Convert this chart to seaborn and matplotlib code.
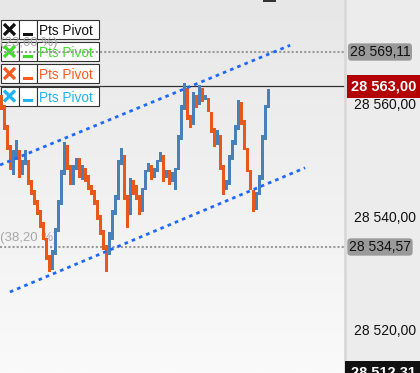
import numpy as np
import seaborn as sns
import matplotlib.pyplot as plt
from matplotlib.colors import LinearSegmentedColormap
from matplotlib.patches import Rectangle
from matplotlib.lines import Line2D

# price bars (open / close)
opens = [28561.5, 28559.7, 28556.2, 28552.6, 28547.3, 28550.0, 28551.8, 28547.3, 28549.1, 28550.0,
         28546.4, 28544.7, 28542.9, 28541.1, 28539.0, 28536.2, 28533.2, 28530.5, 28533.2, 28537.2,
         28542.0, 28547.3, 28552.6, 28549.1, 28545.6, 28548.2, 28550.3, 28546.4, 28548.6, 28547.3,
         28545.6, 28544.7, 28542.9, 28540.2, 28537.6, 28534.9, 28533.2, 28535.8, 28540.2, 28542.9,
         28549.1, 28550.9, 28543.8, 28540.2, 28546.4, 28545.6, 28543.8, 28540.8, 28544.7, 28547.9,
         28549.1, 28546.8, 28547.9, 28549.6, 28550.9, 28546.8, 28548.2, 28546.1, 28544.7, 28548.2,
         28553.5, 28558.8, 28562.7, 28558.0, 28556.2, 28561.5, 28559.7, 28562.7, 28560.6, 28561.0,
         28558.5, 28555.7, 28552.6, 28554.4, 28549.1, 28544.7, 28545.6, 28550.0, 28552.6, 28555.3,
         28560.3, 28557.1, 28552.1, 28548.2, 28544.7, 28541.1, 28543.8, 28546.4, 28553.5, 28559.2]
closes = [28558.8, 28555.3, 28551.8, 28548.2, 28551.8, 28553.5, 28546.8, 28550.0, 28551.8, 28545.6,
          28543.8, 28542.0, 28540.2, 28537.9, 28535.8, 28532.3, 28530.1, 28534.0, 28537.9, 28542.9,
          28548.2, 28553.2, 28548.2, 28545.6, 28549.1, 28550.3, 28546.8, 28549.1, 28546.1, 28544.7,
          28543.8, 28542.0, 28539.4, 28536.7, 28534.0, 28530.1, 28537.2, 28541.1, 28543.8, 28550.0,
          28552.1, 28542.9, 28537.9, 28546.8, 28543.8, 28542.9, 28540.2, 28545.0, 28548.2, 28549.5,
          28546.4, 28548.6, 28550.0, 28551.4, 28546.1, 28548.2, 28545.6, 28547.9, 28548.6, 28554.4,
          28559.7, 28563.6, 28557.1, 28555.7, 28562.0, 28559.2, 28563.3, 28560.3, 28561.5, 28558.5,
          28554.8, 28552.3, 28555.3, 28548.2, 28543.8, 28546.4, 28550.9, 28553.5, 28556.2, 28560.6,
          28556.2, 28551.8, 28547.9, 28544.7, 28540.8, 28544.3, 28547.3, 28554.4, 28559.7, 28562.6]

# channel lines (two points each)
upper_x = [-0.5, 96.2]
upper_y = [28549.1, 28570.3]
lower_x = [2.8, 101.2]
lower_y = [28526.6, 28548.6]

pivot_levels = [28569.11, 28534.57]
pivot_labels = ["28 569,11", "28 534,57"]
pivot_pcts = ["(23,60 %)", "(38,20 %)"]
pct_y = [28570.7, 28536.2]
last_price = 28563.00
last_label = "28 563,00"
low_price = 28512.31
low_label = "28 512,31"
y_ticks = [28520, 28540, 28560]
y_tick_labels = ["28 520,00", "28 540,00", "28 560,00"]

legend_colors = ["#111111", "#3fdc2a", "#ff5a1f", "#1fb4ee"]
legend_label = "Pts Pivot"

UP = "#4a80b8"
DOWN = "#e8581a"

sns.set_style("white")
plt.rcParams['font.family'] = ['Liberation Sans', 'DejaVu Sans']

W, H = 420, 373
fig = plt.figure(figsize=(W / 100, H / 100), dpi=100, facecolor="#ececec")
AXW = 345
ax = fig.add_axes([0, 0, AXW / W, 1])

xmin, xmax = -0.5, 114.5
ymin, ymax = 28512.25, 28578.32

# background gradient
cmap = LinearSegmentedColormap.from_list("bg", ["#e7e7e7", "#fafafa"])
ax.imshow(np.linspace(0, 1, 200).reshape(-1, 1), cmap=cmap, aspect="auto",
          extent=[xmin, xmax, ymin, ymax], origin="upper", zorder=0)

# legend boxes (pixel coords -> axes coords)
def ac(x, y):
    return x / AXW, 1 - y / H

row_tops = [20, 42, 64, 86.5]
for top, col in zip(row_tops, legend_colors):
    for bx, bw in [(0.5, 18), (19, 17.5), (37, 62)]:
        x0, y0 = ac(bx, top + 19)
        ax.add_patch(Rectangle((x0, y0), bw / AXW, 19 / H, transform=ax.transAxes,
                               facecolor="white", edgecolor="#333333", lw=0.8, zorder=1.5))
    for (xa, ya), (xb, yb) in [((4, top + 4), (15, top + 15)), ((4, top + 15), (15, top + 4))]:
        p0, p1 = ac(xa, ya), ac(xb, yb)
        ax.add_line(Line2D([p0[0], p1[0]], [p0[1], p1[1]], transform=ax.transAxes,
                           color=col, lw=2.4, solid_capstyle="butt", zorder=1.6))
    ux, uy = ac(23, top + 15.5)
    ax.add_patch(Rectangle((ux, uy), 10 / AXW, 3 / H, transform=ax.transAxes,
                           facecolor=col, edgecolor="none", zorder=1.6))
    tx, ty = ac(39, top + 15)
    ax.text(tx, ty, legend_label, transform=ax.transAxes, color=col, fontsize=9.8,
            va="baseline", ha="left", zorder=1.6)

# pivot levels
for lvl, pct, py in zip(pivot_levels, pivot_pcts, pct_y):
    ax.axhline(lvl, color="#9a9a9a", lw=1.5, dashes=(1, 1), zorder=2)
    ax.text(xmin, py, pct, color="#a8a8a8", fontsize=9.5, ha="left", va="center", zorder=2)

# last price line
ax.axhline(last_price, color="#333333", lw=0.9, zorder=2)

# price bars
x = np.arange(len(opens))
o = np.array(opens)
c = np.array(closes)
cols = [UP if cc >= oo else DOWN for oo, cc in zip(o, c)]
ax.bar(x, c - o, bottom=o, width=0.95, color=cols, linewidth=0, zorder=3)

# channel lines
for lx, ly in [(upper_x, upper_y), (lower_x, lower_y)]:
    sns.lineplot(x=lx, y=ly, ax=ax, color="#1f68ff", lw=2.0, zorder=4)
    ax.lines[-1].set_dashes([1.3, 1.5])

ax.set_xlim(xmin, xmax)
ax.set_ylim(ymin, ymax)
ax.set_xticks([])
ax.set_yticks(y_ticks)
ax.set_yticklabels(y_tick_labels)
ax.yaxis.tick_right()
ax.tick_params(axis="y", length=0, pad=6.5, labelsize=10, labelcolor="#111111")
for s in ["top", "left", "bottom"]:
    ax.spines[s].set_visible(False)
ax.spines["right"].set_color("#d9d9d9")
ax.spines["right"].set_linewidth(2)

# price labels on the axis
ytr = ax.get_yaxis_transform()
for lvl, lab in zip(pivot_levels, pivot_labels):
    ax.text(380 / AXW, lvl, lab, transform=ytr, fontsize=10, color="#111111",
            ha="center", va="center",
            bbox=dict(boxstyle="round,pad=0.12,rounding_size=0.25", fc="#9a9a9a", ec="none"))
ax.text(383.5 / AXW, last_price, last_label, transform=ytr, fontsize=10.5, color="white",
        fontweight="bold", ha="center", va="center",
        bbox=dict(boxstyle="square,pad=0.28", fc="#b30000", ec="none"))
ax.text(383 / AXW, low_price, low_label, transform=ytr, fontsize=10.5, color="white",
        fontweight="bold", ha="center", va="center",
        bbox=dict(boxstyle="square,pad=0.35", fc="#111111", ec="none"))

# small marker at the top edge
fig.patches.append(Rectangle((263 / W, 1 - 2 / H), 13 / W, 2 / H, transform=fig.transFigure,
                             facecolor="#333333", edgecolor="none"))

fig.savefig("out.png", dpi=100, facecolor=fig.get_facecolor())
